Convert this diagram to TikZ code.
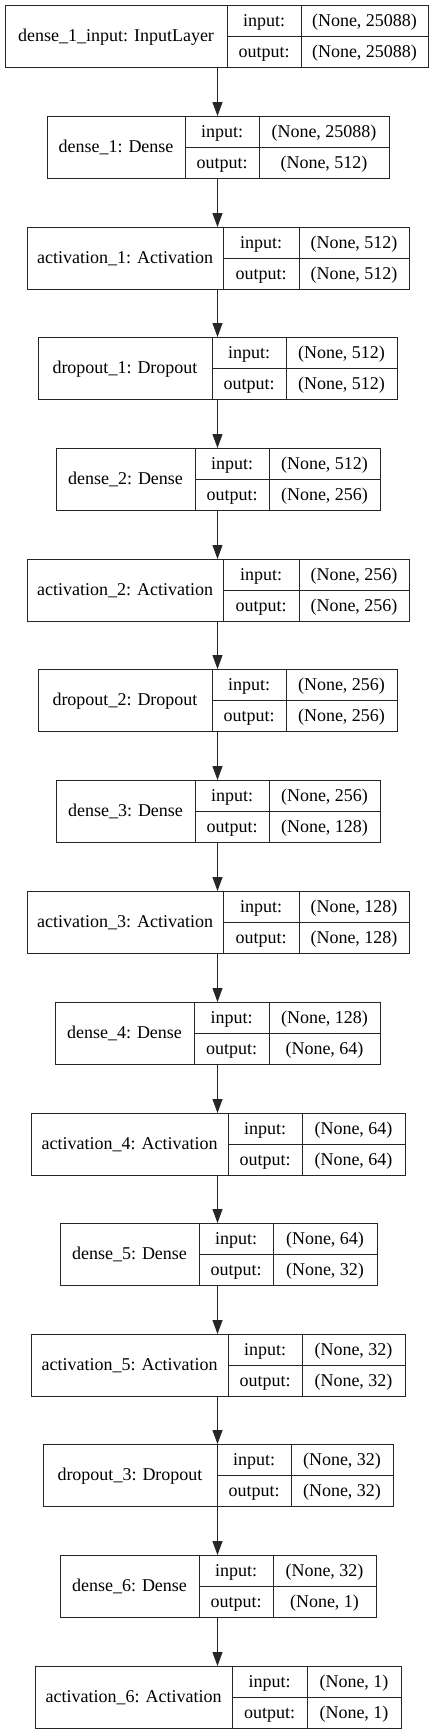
\documentclass[tikz,border=0pt]{standalone}
\usepackage{fontspec}
\setmainfont{Liberation Serif}
\usetikzlibrary{arrows.meta}
\tikzset{
  layerbox/.style={draw=black!85, line width=1pt, inner sep=0pt, minimum height=62pt, anchor=north west},
  cell/.style={draw=black!85, line width=1pt},
  txt/.style={font=\fontsize{18}{20}\selectfont, inner sep=0pt, anchor=base},
  flow/.style={draw=black!85, line width=1pt, -{Triangle[length=14pt,width=10pt]}},
}
\newcommand\kerasLayer[9]{%
  \node[layerbox, minimum width={(#6-#3)*1pt}] (#1) at (#3,#2) {};
  \draw[cell] (#4,#2) -- (#4,{#2+62}) (#5,#2) -- (#5,{#2+62}) (#4,{#2+31}) -- (#6,{#2+31});
  \node[txt] (#1-name) at ({(#3+#4)/2},{#2+36}) {#7};
  \node[txt] (#1-inkey) at ({(#4+#5)/2},{#2+21}) {input:};
  \node[txt] (#1-inval) at ({(#5+#6)/2},{#2+21}) {#8};
  \node[txt] (#1-outkey) at ({(#4+#5)/2},{#2+52}) {output:};
  \node[txt] (#1-outval) at ({(#5+#6)/2},{#2+52}) {#9};
}
\begin{document}
\begin{tikzpicture}[x=1pt,y=-1pt]
\useasboundingbox (0,0) rectangle (436,1733);
\coordinate (axis) at (217.5,0);
\kerasLayer{l0}{5}{5}{227}{301}{428}{dense\_1\_input: InputLayer}{(None, 25088)}{(None, 25088)}
\kerasLayer{l1}{116}{47}{185}{259}{389}{dense\_1: Dense}{(None, 25088)}{(None, 512)}
\kerasLayer{l2}{227}{27}{223}{299}{409}{activation\_1: Activation}{(None, 512)}{(None, 512)}
\kerasLayer{l3}{337}{38}{212}{286}{397}{dropout\_1: Dropout}{(None, 512)}{(None, 512)}
\kerasLayer{l4}{448}{56}{195}{269}{380}{dense\_2: Dense}{(None, 512)}{(None, 256)}
\kerasLayer{l5}{559}{27}{223}{299}{409}{activation\_2: Activation}{(None, 256)}{(None, 256)}
\kerasLayer{l6}{669}{38}{212}{286}{397}{dropout\_2: Dropout}{(None, 256)}{(None, 256)}
\kerasLayer{l7}{780}{56}{195}{269}{380}{dense\_3: Dense}{(None, 256)}{(None, 128)}
\kerasLayer{l8}{891}{27}{223}{299}{409}{activation\_3: Activation}{(None, 128)}{(None, 128)}
\kerasLayer{l9}{1002}{55}{194}{269}{380}{dense\_4: Dense}{(None, 128)}{(None, 64)}
\kerasLayer{l10}{1113}{31}{228}{302}{405}{activation\_4: Activation}{(None, 64)}{(None, 64)}
\kerasLayer{l11}{1223}{60}{199}{273}{377}{dense\_5: Dense}{(None, 64)}{(None, 32)}
\kerasLayer{l12}{1334}{31}{228}{302}{405}{activation\_5: Activation}{(None, 32)}{(None, 32)}
\kerasLayer{l13}{1444}{43}{217}{291}{393}{dropout\_3: Dropout}{(None, 32)}{(None, 32)}
\kerasLayer{l14}{1555}{60}{199}{273}{376}{dense\_6: Dense}{(None, 32)}{(None, 1)}
\kerasLayer{l15}{1666}{35}{232}{307}{401}{activation\_6: Activation}{(None, 1)}{(None, 1)}
\foreach \a/\b in {l0/l1,l1/l2,l2/l3,l3/l4,l4/l5,l5/l6,l6/l7,l7/l8,l8/l9,l9/l10,l10/l11,l11/l12,l12/l13,l13/l14,l14/l15}
  \draw[flow] (\a.south -| axis) -- (\b.north -| axis);
\end{tikzpicture}
\end{document}
